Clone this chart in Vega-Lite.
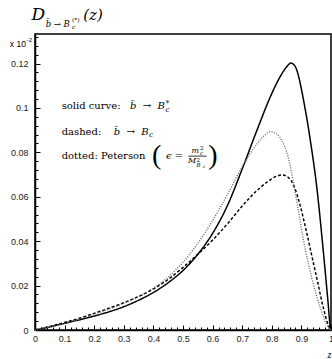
{
  "$schema": "https://vega.github.io/schema/vega-lite/v6.json",
  "width": 296,
  "height": 296,
  "autosize": {"type": "none"},
  "padding": {"left": 35, "top": 34, "right": 1, "bottom": 29},
  "background": "white",
  "config": {
    "view": {"stroke": "black", "strokeWidth": 1.5},
    "axis": {
      "domainColor": "black", "domainWidth": 1.5, "tickColor": "black", "tickWidth": 1,
      "grid": false, "labelFont": "Liberation Sans", "labelFontSize": 9, "labelColor": "#222"
    },
    "text": {"font": "DejaVu Serif", "fontSize": 10, "align": "left", "baseline": "alphabetic", "color": "black"}
  },
  "data": {"values": [{}]},
  "datasets": {
    "curves": [
      {"z": 0, "value": 0, "curve": "solid"},
      {"z": 0.05, "value": 0.0014, "curve": "solid"},
      {"z": 0.1, "value": 0.003, "curve": "solid"},
      {"z": 0.15, "value": 0.0046, "curve": "solid"},
      {"z": 0.2, "value": 0.0063, "curve": "solid"},
      {"z": 0.25, "value": 0.0082, "curve": "solid"},
      {"z": 0.3, "value": 0.0105, "curve": "solid"},
      {"z": 0.35, "value": 0.0134, "curve": "solid"},
      {"z": 0.4, "value": 0.0169, "curve": "solid"},
      {"z": 0.45, "value": 0.0213, "curve": "solid"},
      {"z": 0.5, "value": 0.0268, "curve": "solid"},
      {"z": 0.55, "value": 0.0341, "curve": "solid"},
      {"z": 0.6, "value": 0.0435, "curve": "solid"},
      {"z": 0.65, "value": 0.056, "curve": "solid"},
      {"z": 0.7, "value": 0.0725, "curve": "solid"},
      {"z": 0.75, "value": 0.09, "curve": "solid"},
      {"z": 0.8, "value": 0.1065, "curve": "solid"},
      {"z": 0.83, "value": 0.1145, "curve": "solid"},
      {"z": 0.85, "value": 0.1185, "curve": "solid"},
      {"z": 0.865, "value": 0.1202, "curve": "solid"},
      {"z": 0.88, "value": 0.1185, "curve": "solid"},
      {"z": 0.89, "value": 0.1145, "curve": "solid"},
      {"z": 0.9, "value": 0.1085, "curve": "solid"},
      {"z": 0.91, "value": 0.1015, "curve": "solid"},
      {"z": 0.92, "value": 0.094, "curve": "solid"},
      {"z": 0.93, "value": 0.0855, "curve": "solid"},
      {"z": 0.94, "value": 0.0765, "curve": "solid"},
      {"z": 0.95, "value": 0.0665, "curve": "solid"},
      {"z": 0.96, "value": 0.0545, "curve": "solid"},
      {"z": 0.97, "value": 0.041, "curve": "solid"},
      {"z": 0.98, "value": 0.027, "curve": "solid"},
      {"z": 0.99, "value": 0.0125, "curve": "solid"},
      {"z": 0.997, "value": 0.002, "curve": "solid"},
      {"z": 1, "value": 0, "curve": "solid"},
      {"z": 0, "value": 0, "curve": "dashed"},
      {"z": 0.05, "value": 0.0016, "curve": "dashed"},
      {"z": 0.1, "value": 0.0034, "curve": "dashed"},
      {"z": 0.15, "value": 0.0053, "curve": "dashed"},
      {"z": 0.2, "value": 0.0075, "curve": "dashed"},
      {"z": 0.25, "value": 0.0098, "curve": "dashed"},
      {"z": 0.3, "value": 0.0123, "curve": "dashed"},
      {"z": 0.35, "value": 0.0151, "curve": "dashed"},
      {"z": 0.4, "value": 0.0185, "curve": "dashed"},
      {"z": 0.45, "value": 0.0228, "curve": "dashed"},
      {"z": 0.5, "value": 0.0282, "curve": "dashed"},
      {"z": 0.55, "value": 0.0341, "curve": "dashed"},
      {"z": 0.6, "value": 0.0405, "curve": "dashed"},
      {"z": 0.65, "value": 0.0478, "curve": "dashed"},
      {"z": 0.7, "value": 0.0558, "curve": "dashed"},
      {"z": 0.75, "value": 0.0628, "curve": "dashed"},
      {"z": 0.79, "value": 0.0672, "curve": "dashed"},
      {"z": 0.815, "value": 0.0692, "curve": "dashed"},
      {"z": 0.835, "value": 0.0698, "curve": "dashed"},
      {"z": 0.855, "value": 0.0688, "curve": "dashed"},
      {"z": 0.875, "value": 0.0648, "curve": "dashed"},
      {"z": 0.895, "value": 0.0565, "curve": "dashed"},
      {"z": 0.915, "value": 0.0455, "curve": "dashed"},
      {"z": 0.935, "value": 0.0335, "curve": "dashed"},
      {"z": 0.955, "value": 0.0215, "curve": "dashed"},
      {"z": 0.975, "value": 0.0095, "curve": "dashed"},
      {"z": 0.99, "value": 0.0025, "curve": "dashed"},
      {"z": 1, "value": 0, "curve": "dashed"},
      {"z": 0, "value": 0, "curve": "dotted"},
      {"z": 0.05, "value": 0.0014, "curve": "dotted"},
      {"z": 0.1, "value": 0.003, "curve": "dotted"},
      {"z": 0.15, "value": 0.0049, "curve": "dotted"},
      {"z": 0.2, "value": 0.0072, "curve": "dotted"},
      {"z": 0.25, "value": 0.0094, "curve": "dotted"},
      {"z": 0.3, "value": 0.012, "curve": "dotted"},
      {"z": 0.35, "value": 0.015, "curve": "dotted"},
      {"z": 0.4, "value": 0.0188, "curve": "dotted"},
      {"z": 0.45, "value": 0.0238, "curve": "dotted"},
      {"z": 0.5, "value": 0.0305, "curve": "dotted"},
      {"z": 0.55, "value": 0.039, "curve": "dotted"},
      {"z": 0.6, "value": 0.0493, "curve": "dotted"},
      {"z": 0.65, "value": 0.061, "curve": "dotted"},
      {"z": 0.7, "value": 0.0735, "curve": "dotted"},
      {"z": 0.75, "value": 0.0838, "curve": "dotted"},
      {"z": 0.775, "value": 0.0875, "curve": "dotted"},
      {"z": 0.795, "value": 0.0893, "curve": "dotted"},
      {"z": 0.815, "value": 0.0885, "curve": "dotted"},
      {"z": 0.835, "value": 0.085, "curve": "dotted"},
      {"z": 0.855, "value": 0.078, "curve": "dotted"},
      {"z": 0.873, "value": 0.0665, "curve": "dotted"},
      {"z": 0.89, "value": 0.0535, "curve": "dotted"},
      {"z": 0.905, "value": 0.042, "curve": "dotted"},
      {"z": 0.92, "value": 0.032, "curve": "dotted"},
      {"z": 0.935, "value": 0.0235, "curve": "dotted"},
      {"z": 0.95, "value": 0.016, "curve": "dotted"},
      {"z": 0.965, "value": 0.0095, "curve": "dotted"},
      {"z": 0.98, "value": 0.004, "curve": "dotted"},
      {"z": 0.99, "value": 0.0012, "curve": "dotted"},
      {"z": 1, "value": 0, "curve": "dotted"}
    ]
  },
  "resolve": {"axis": {"x": "independent", "y": "independent"}},
  "layer": [
    {
      "data": {"name": "curves"},
      "mark": {"type": "line", "interpolate": "monotone"},
      "encoding": {
        "x": {"field": "z", "type": "quantitative", "scale": {"domain": [0, 1]},
          "axis": {"orient": "bottom", "values": [0, 0.1, 0.2, 0.3, 0.4, 0.5, 0.6, 0.7, 0.8, 0.9, 1], "format": "~g",
            "tickSize": -5, "labelPadding": 9, "title": "z", "titleFont": "Liberation Serif", "titleFontStyle": "italic",
            "titleFontWeight": "normal", "titleFontSize": 10, "titleAnchor": "end", "titlePadding": 6, "labelFlush": false}},
        "y": {"field": "value", "type": "quantitative", "scale": {"domain": [0, 0.1333]},
          "axis": {"orient": "left", "values": [0, 0.02, 0.04, 0.06, 0.08, 0.1, 0.12], "format": "~g",
            "tickSize": -5, "labelPadding": 12, "title": null}},
        "color": {"field": "curve", "type": "nominal", "legend": null,
          "scale": {"domain": ["solid", "dashed", "dotted"], "range": ["#000000", "#000000", "#666666"]}},
        "strokeDash": {"field": "curve", "type": "nominal", "legend": null,
          "scale": {"domain": ["solid", "dashed", "dotted"], "range": [[1, 0], [3, 2], [1, 1.5]]}},
        "strokeWidth": {"field": "curve", "type": "nominal", "legend": null,
          "scale": {"domain": ["solid", "dashed", "dotted"], "range": [1.5, 1.4, 1]}}
      }
    },
    {
      "data": {"name": "curves"},
      "mark": {"type": "line", "opacity": 0},
      "encoding": {
        "x": {"field": "z", "type": "quantitative", "scale": {"domain": [0, 1]},
          "axis": {"orient": "bottom", "values": [0.02, 0.04, 0.06, 0.08, 0.12, 0.14, 0.16, 0.18, 0.22, 0.24, 0.26, 0.28, 0.32, 0.34, 0.36, 0.38, 0.42, 0.44, 0.46, 0.48, 0.52, 0.54, 0.56, 0.58, 0.62, 0.64, 0.66, 0.68, 0.72, 0.74, 0.76, 0.78, 0.82, 0.84, 0.86, 0.88, 0.92, 0.94, 0.96, 0.98],
            "tickSize": -3, "labels": false, "domain": false, "title": null}},
        "y": {"field": "value", "type": "quantitative", "scale": {"domain": [0, 0.1333]},
          "axis": {"orient": "left", "values": [0.004, 0.008, 0.012, 0.016, 0.024, 0.028, 0.032, 0.036, 0.044, 0.048, 0.052, 0.056, 0.064, 0.068, 0.072, 0.076, 0.084, 0.088, 0.092, 0.096, 0.104, 0.108, 0.112, 0.116, 0.124, 0.128, 0.132],
            "tickSize": -3, "labels": false, "domain": false, "title": null}}
      }
    },
    {
      "mark": {"type": "text", "text": "D", "fontSize": 17, "fontStyle": "italic"},
      "encoding": {"x": {"datum": -0.012, "type": "quantitative", "scale": {"domain": [0, 1]}, "axis": null},
        "y": {"datum": 0.1396, "type": "quantitative", "scale": {"domain": [0, 0.1333]}, "axis": null}}
    },
    {
      "mark": {"type": "text", "text": "b̄ → B", "fontSize": 8.5, "fontStyle": "italic"},
      "encoding": {"x": {"datum": 0.036, "type": "quantitative", "scale": {"domain": [0, 1]}, "axis": null},
        "y": {"datum": 0.1363, "type": "quantitative", "scale": {"domain": [0, 0.1333]}, "axis": null}}
    },
    {
      "mark": {"type": "text", "text": "c", "fontSize": 6, "fontStyle": "italic"},
      "encoding": {"x": {"datum": 0.125, "type": "quantitative", "scale": {"domain": [0, 1]}, "axis": null},
        "y": {"datum": 0.1356, "type": "quantitative", "scale": {"domain": [0, 0.1333]}, "axis": null}}
    },
    {
      "mark": {"type": "text", "text": "(*)", "fontSize": 6},
      "encoding": {"x": {"datum": 0.125, "type": "quantitative", "scale": {"domain": [0, 1]}, "axis": null},
        "y": {"datum": 0.1387, "type": "quantitative", "scale": {"domain": [0, 0.1333]}, "axis": null}}
    },
    {
      "mark": {"type": "text", "text": "(z)", "fontSize": 15, "fontStyle": "italic"},
      "encoding": {"x": {"datum": 0.163, "type": "quantitative", "scale": {"domain": [0, 1]}, "axis": null},
        "y": {"datum": 0.1396, "type": "quantitative", "scale": {"domain": [0, 0.1333]}, "axis": null}}
    },
    {
      "mark": {"type": "text", "text": "x 10", "font": "Liberation Sans", "fontSize": 8.5},
      "encoding": {"x": {"datum": -0.085, "type": "quantitative", "scale": {"domain": [0, 1]}, "axis": null},
        "y": {"datum": 0.1276, "type": "quantitative", "scale": {"domain": [0, 0.1333]}, "axis": null}}
    },
    {
      "mark": {"type": "text", "text": "-2", "font": "Liberation Sans", "fontSize": 6},
      "encoding": {"x": {"datum": -0.028, "type": "quantitative", "scale": {"domain": [0, 1]}, "axis": null},
        "y": {"datum": 0.1296, "type": "quantitative", "scale": {"domain": [0, 0.1333]}, "axis": null}}
    },
    {
      "mark": {"type": "text", "text": "solid curve:"},
      "encoding": {"x": {"datum": 0.09, "type": "quantitative", "scale": {"domain": [0, 1]}, "axis": null},
        "y": {"datum": 0.0994, "type": "quantitative", "scale": {"domain": [0, 0.1333]}, "axis": null}}
    },
    {
      "mark": {"type": "text", "text": "b̄\u00a0\u00a0→\u00a0\u00a0B", "fontStyle": "italic"},
      "encoding": {"x": {"datum": 0.321, "type": "quantitative", "scale": {"domain": [0, 1]}, "axis": null},
        "y": {"datum": 0.0994, "type": "quantitative", "scale": {"domain": [0, 0.1333]}, "axis": null}}
    },
    {
      "mark": {"type": "text", "text": "c", "fontSize": 7, "fontStyle": "italic"},
      "encoding": {"x": {"datum": 0.441, "type": "quantitative", "scale": {"domain": [0, 1]}, "axis": null},
        "y": {"datum": 0.0982, "type": "quantitative", "scale": {"domain": [0, 0.1333]}, "axis": null}}
    },
    {
      "mark": {"type": "text", "text": "*", "fontSize": 8},
      "encoding": {"x": {"datum": 0.441, "type": "quantitative", "scale": {"domain": [0, 1]}, "axis": null},
        "y": {"datum": 0.1008, "type": "quantitative", "scale": {"domain": [0, 0.1333]}, "axis": null}}
    },
    {
      "mark": {"type": "text", "text": "dashed:"},
      "encoding": {"x": {"datum": 0.09, "type": "quantitative", "scale": {"domain": [0, 1]}, "axis": null},
        "y": {"datum": 0.0878, "type": "quantitative", "scale": {"domain": [0, 0.1333]}, "axis": null}}
    },
    {
      "mark": {"type": "text", "text": "b̄\u00a0\u00a0→\u00a0\u00a0B", "fontStyle": "italic"},
      "encoding": {"x": {"datum": 0.2659, "type": "quantitative", "scale": {"domain": [0, 1]}, "axis": null},
        "y": {"datum": 0.0878, "type": "quantitative", "scale": {"domain": [0, 0.1333]}, "axis": null}}
    },
    {
      "mark": {"type": "text", "text": "c", "fontSize": 7, "fontStyle": "italic"},
      "encoding": {"x": {"datum": 0.385, "type": "quantitative", "scale": {"domain": [0, 1]}, "axis": null},
        "y": {"datum": 0.0868, "type": "quantitative", "scale": {"domain": [0, 0.1333]}, "axis": null}}
    },
    {
      "mark": {"type": "text", "text": "dotted: Peterson"},
      "encoding": {"x": {"datum": 0.09, "type": "quantitative", "scale": {"domain": [0, 1]}, "axis": null},
        "y": {"datum": 0.077, "type": "quantitative", "scale": {"domain": [0, 0.1333]}, "axis": null}}
    },
    {
      "mark": {"type": "text", "text": "(", "font": "Liberation Serif", "fontSize": 28},
      "encoding": {"x": {"datum": 0.395, "type": "quantitative", "scale": {"domain": [0, 1]}, "axis": null},
        "y": {"datum": 0.0747, "type": "quantitative", "scale": {"domain": [0, 0.1333]}, "axis": null}}
    },
    {
      "mark": {"type": "text", "text": "ϵ =", "fontStyle": "italic"},
      "encoding": {"x": {"datum": 0.4426, "type": "quantitative", "scale": {"domain": [0, 1]}, "axis": null},
        "y": {"datum": 0.077, "type": "quantitative", "scale": {"domain": [0, 0.1333]}, "axis": null}}
    },
    {
      "mark": {"type": "text", "text": "m", "fontSize": 8, "fontStyle": "italic"},
      "encoding": {"x": {"datum": 0.529, "type": "quantitative", "scale": {"domain": [0, 1]}, "axis": null},
        "y": {"datum": 0.0798, "type": "quantitative", "scale": {"domain": [0, 0.1333]}, "axis": null}}
    },
    {
      "mark": {"type": "text", "text": "2", "fontSize": 5.5},
      "encoding": {"x": {"datum": 0.5575, "type": "quantitative", "scale": {"domain": [0, 1]}, "axis": null},
        "y": {"datum": 0.0811, "type": "quantitative", "scale": {"domain": [0, 0.1333]}, "axis": null}}
    },
    {
      "mark": {"type": "text", "text": "c", "fontSize": 5.5, "fontStyle": "italic"},
      "encoding": {"x": {"datum": 0.5575, "type": "quantitative", "scale": {"domain": [0, 1]}, "axis": null},
        "y": {"datum": 0.0789, "type": "quantitative", "scale": {"domain": [0, 0.1333]}, "axis": null}}
    },
    {
      "mark": {"type": "rule", "strokeWidth": 0.8, "color": "black"},
      "encoding": {"x": {"datum": 0.518, "type": "quantitative", "scale": {"domain": [0, 1]}, "axis": null},
        "x2": {"datum": 0.58},
        "y": {"datum": 0.0783, "type": "quantitative", "scale": {"domain": [0, 0.1333]}, "axis": null}}
    },
    {
      "mark": {"type": "text", "text": "M", "fontSize": 8, "fontStyle": "italic"},
      "encoding": {"x": {"datum": 0.517, "type": "quantitative", "scale": {"domain": [0, 1]}, "axis": null},
        "y": {"datum": 0.0751, "type": "quantitative", "scale": {"domain": [0, 0.1333]}, "axis": null}}
    },
    {
      "mark": {"type": "text", "text": "2", "fontSize": 5.5},
      "encoding": {"x": {"datum": 0.546, "type": "quantitative", "scale": {"domain": [0, 1]}, "axis": null},
        "y": {"datum": 0.0758, "type": "quantitative", "scale": {"domain": [0, 0.1333]}, "axis": null}}
    },
    {
      "mark": {"type": "text", "text": "B", "fontSize": 5.5, "fontStyle": "italic"},
      "encoding": {"x": {"datum": 0.546, "type": "quantitative", "scale": {"domain": [0, 1]}, "axis": null},
        "y": {"datum": 0.0735, "type": "quantitative", "scale": {"domain": [0, 0.1333]}, "axis": null}}
    },
    {
      "mark": {"type": "text", "text": "c", "fontSize": 4.5, "fontStyle": "italic"},
      "encoding": {"x": {"datum": 0.567, "type": "quantitative", "scale": {"domain": [0, 1]}, "axis": null},
        "y": {"datum": 0.0729, "type": "quantitative", "scale": {"domain": [0, 0.1333]}, "axis": null}}
    },
    {
      "mark": {"type": "text", "text": ")", "font": "Liberation Serif", "fontSize": 28},
      "encoding": {"x": {"datum": 0.5855, "type": "quantitative", "scale": {"domain": [0, 1]}, "axis": null},
        "y": {"datum": 0.0747, "type": "quantitative", "scale": {"domain": [0, 0.1333]}, "axis": null}}
    }
  ]
}
